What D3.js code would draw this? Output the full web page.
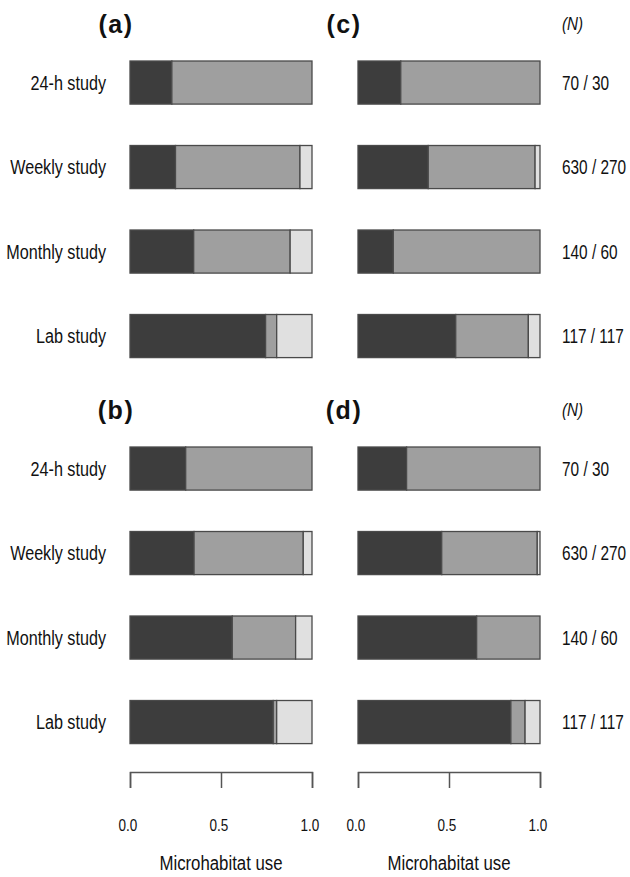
<!DOCTYPE html>
<html>
<head>
<meta charset="utf-8">
<script src="https://cdn.jsdelivr.net/npm/d3@7.9.0/dist/d3.min.js"></script>
<style>
  body { margin: 0; background: #fff; }
  text { font-family: "Liberation Sans", Arial, sans-serif; fill: #111; }
</style>
</head>
<body>
<svg id="chart" width="630" height="877"></svg>
<script>
const categories = ['24-h study', 'Weekly study', 'Monthly study', 'Lab study'];
const nLabels = ['70 / 30', '630 / 270', '140 / 60', '117 / 117'];
const tickValues = [0, 0.5, 1];
const axisTitle = 'Microhabitat use';

// proportions: dark / mid grey / light grey
const aDark = [0.23, 0.25, 0.35, 0.745];
const aMid = [0.77, 0.684, 0.53, 0.061];
const aLight = [0, 0.066, 0.12, 0.194];

const cDark = [0.235, 0.386, 0.194, 0.537];
const cMid = [0.765, 0.587, 0.806, 0.399];
const cLight = [0, 0.027, 0, 0.064];

const bDark = [0.306, 0.352, 0.562, 0.787];
const bMid = [0.694, 0.6, 0.348, 0.019];
const bLight = [0, 0.048, 0.09, 0.194];

const dDark = [0.267, 0.46, 0.652, 0.84];
const dMid = [0.733, 0.525, 0.348, 0.078];
const dLight = [0, 0.015, 0, 0.082];

const colors = ['#3d3d3d', '#9f9f9f', '#e0e0e0'];
const keys = ['dark', 'mid', 'light'];

const svg = d3.select('#chart');

const xLeft = d3.scaleLinear().domain([0, 1]).range([130, 312]);
const xRight = d3.scaleLinear().domain([0, 1]).range([358, 540]);
const yTop = d3.scaleBand().domain(categories).range([40.3, 378.3]).paddingInner(0.49).paddingOuter(0.245);
const yBottom = d3.scaleBand().domain(categories).range([426.3, 764.3]).paddingInner(0.49).paddingOuter(0.245);

// no narrow font installed, so squeeze text horizontally
function narrow(sel, x, y, txt, size, anchor, sx) {
  return sel.append('text')
    .attr('transform', `translate(${x},${y}) scale(${sx},1)`)
    .attr('text-anchor', anchor)
    .attr('dy', '0.35em')
    .style('font-size', size + 'px')
    .text(txt);
}

const panels = [
  { label: '(a)', x: xLeft, y: yTop, dark: aDark, mid: aMid, light: aLight },
  { label: '(c)', x: xRight, y: yTop, dark: cDark, mid: cMid, light: cLight },
  { label: '(b)', x: xLeft, y: yBottom, dark: bDark, mid: bMid, light: bLight },
  { label: '(d)', x: xRight, y: yBottom, dark: dDark, mid: dMid, light: dLight }
];

const stack = d3.stack().keys(keys);

panels.forEach(p => {
  let rows = categories.map((c, i) => ({ cat: c, dark: p.dark[i], mid: p.mid[i], light: p.light[i] }));
  let series = stack(rows);
  let g = svg.append('g');
  series.forEach((s, k) => {
    g.selectAll(null)
      .data(s.filter(d => d[1] - d[0] > 0))
      .join('rect')
      .attr('x', d => p.x(d[0]))
      .attr('y', d => p.y(d.data.cat))
      .attr('width', d => p.x(d[1]) - p.x(d[0]))
      .attr('height', p.y.bandwidth())
      .attr('fill', colors[k])
      .attr('stroke', '#4a4a4a')
      .attr('stroke-width', 1.3);
  });
  // panel letter
  svg.append('text')
    .attr('x', p.x(0) - 14)
    .attr('y', p.y.range()[0] - 7.5)
    .attr('text-anchor', 'middle')
    .style('font-weight', 'bold')
    .style('font-size', '25px')
    .style('letter-spacing', '1.5px')
    .text(p.label);
});

// row labels left, sample sizes right
[yTop, yBottom].forEach(y => {
  let g = svg.append('g');
  categories.forEach((c, i) => {
    let cy = y(c) + y.bandwidth() / 2;
    narrow(g, 106, cy, c, 21, 'end', 0.77);
    narrow(g, 562, cy, nLabels[i], 20, 'start', 0.77);
  });
  narrow(g, 562, y.range()[0] - 17, '(N)', 19, 'start', 0.8)
    .style('font-style', 'italic');
});

// bottom axes
[xLeft, xRight].forEach(x => {
  let ax = svg.append('g')
    .attr('transform', 'translate(0,772)')
    .call(d3.axisBottom(x).tickValues(tickValues).tickSize(16).tickFormat(d3.format('.1f')));
  ax.selectAll('path, line').attr('stroke', '#555').attr('stroke-width', 1.5);
  ax.selectAll('.tick text').remove();
  tickValues.forEach(v => narrow(ax, x(v) - 2, 53, d3.format('.1f')(v), 16.5, 'middle', 0.82));
  narrow(svg, (x.range()[0] + x.range()[1]) / 2, 863, axisTitle, 21, 'middle', 0.8);
});
</script>
</body>
</html>
